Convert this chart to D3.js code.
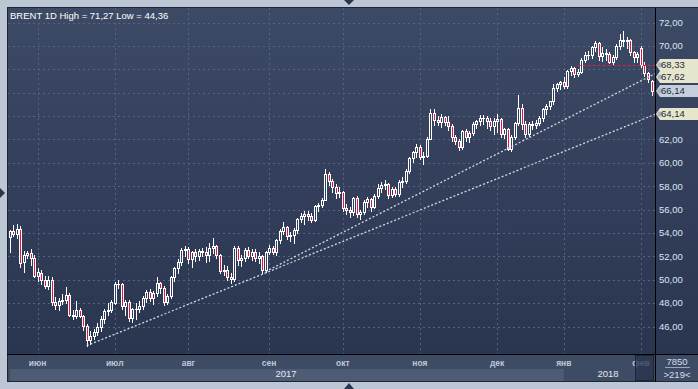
<!DOCTYPE html>
<html><head><meta charset="utf-8">
<script src="https://cdnjs.cloudflare.com/ajax/libs/d3/7.8.5/d3.min.js"></script>
<style>html,body{margin:0;padding:0;background:#bcc6d4;}svg{display:block;}</style>
</head><body>
<script>
// ---- data ----
const openP = [53.62,54.20,53.90,54.30,51.50,52.15,52.30,51.84,50.31,50.60,49.95,49.47,49.96,48.06,47.86,48.15,48.29,48.72,46.99,46.92,47.37,46.91,46.02,44.82,45.22,45.54,46.00,46.65,47.31,47.42,
48.00,49.67,49.61,47.79,48.11,46.71,47.48,47.52,47.74,48.42,48.91,48.42,48.84,49.70,49.30,48.06,48.60,50.20,50.97,51.49,52.52,
52.65,51.78,52.36,52.01,52.42,52.37,52.14,52.70,52.90,52.10,50.73,50.80,50.27,50.03,52.72,51.66,51.87,52.57,52.04,52.41,51.89,52.00,50.86,
52.38,52.75,52.34,53.38,54.20,54.49,53.78,53.84,54.27,55.16,55.47,55.62,55.48,55.14,56.29,56.43,56.86,59.02,58.44,57.90,57.41,
57.54,56.12,55.94,55.80,57.00,55.62,55.79,56.61,56.94,56.25,57.17,57.82,58.06,58.15,57.24,57.75,57.37,58.33,58.44,59.30,60.44,60.90,
61.37,60.49,60.62,62.07,64.27,63.69,63.49,63.93,63.52,63.16,62.21,61.87,61.36,62.72,62.22,62.57,63.32,63.55,63.86,63.84,63.61,63.11,
63.57,63.73,62.45,62.86,61.22,62.20,63.40,64.69,63.34,62.44,63.31,63.23,63.42,63.80,64.56,64.90,65.25,66.44,66.72,
66.87,66.57,67.84,68.07,67.62,67.78,68.82,69.20,69.26,69.87,70.26,69.15,69.37,69.31,68.61,69.03,69.96,70.53,70.42,70.52,69.46,69.02,
69.80,68.40,67.70,67.00];
const highP = [54.25,54.67,54.75,54.60,52.50,52.50,52.60,52.10,51.00,50.80,50.30,50.30,50.20,48.50,48.40,48.80,49.40,48.90,47.40,48.20,47.60,47.00,46.20,45.60,45.80,46.30,46.90,47.50,48.00,48.30,
49.80,50.00,49.70,48.30,48.30,47.60,48.00,48.20,48.60,49.10,49.20,49.00,50.20,49.80,49.50,48.80,50.30,51.10,51.80,52.70,52.90,
52.80,52.50,52.60,52.60,52.70,52.80,53.10,53.60,53.00,52.20,51.30,51.20,50.60,52.90,52.90,52.10,52.70,52.80,52.60,52.60,52.40,52.10,52.50,
53.00,52.90,53.50,54.30,54.90,54.60,54.10,54.40,55.30,55.70,55.90,55.90,55.70,56.40,56.60,57.00,59.50,59.20,58.60,58.20,57.90,
57.60,56.50,56.20,57.10,57.20,56.00,56.80,57.10,57.00,57.30,58.20,58.40,58.50,58.30,57.90,57.90,58.50,58.80,59.50,60.50,61.00,61.60,
61.50,60.90,62.20,64.60,64.60,64.00,64.20,64.00,64.00,63.30,62.40,62.00,62.80,62.90,62.70,63.50,63.70,64.10,64.10,64.00,63.80,63.80,
64.20,63.80,63.00,63.00,62.40,63.50,65.80,65.00,63.60,63.50,63.60,63.70,64.00,64.70,65.00,65.30,66.70,66.80,67.00,
67.30,67.90,68.30,68.20,68.00,69.00,69.50,69.60,70.00,70.40,70.30,69.90,69.70,69.50,69.20,70.20,71.00,71.27,70.80,70.60,69.60,69.50,
70.00,68.60,67.80,67.10];
const lowP = [52.40,53.70,53.60,51.10,50.70,51.90,51.30,50.20,49.90,49.60,49.30,49.20,47.80,47.50,47.40,47.90,48.00,46.90,46.60,46.70,46.80,45.70,44.36,44.50,44.90,45.30,45.60,46.30,47.00,47.20,
47.90,49.30,47.50,47.00,46.50,46.40,46.60,47.20,47.50,48.10,48.20,47.90,48.60,48.90,47.80,47.90,48.40,49.90,50.60,51.30,52.00,
51.40,51.10,51.60,51.70,52.00,51.50,51.60,52.30,51.90,50.60,50.40,50.00,49.70,49.90,51.30,51.20,51.60,51.90,51.70,51.60,51.40,50.60,50.70,
52.20,52.20,52.10,53.10,53.90,53.50,53.30,53.10,54.00,54.90,54.80,55.10,54.90,55.00,55.90,56.20,56.80,58.10,57.50,57.00,57.10,
55.90,55.60,55.40,55.50,55.40,55.20,55.60,56.20,55.90,56.10,57.00,57.50,57.80,57.00,57.10,57.20,57.20,57.90,58.30,59.10,60.10,60.50,
60.30,59.90,60.50,62.00,63.20,63.20,63.10,63.20,62.80,61.90,61.60,61.10,61.20,61.90,61.80,62.40,63.00,63.20,63.30,63.00,62.80,62.50,
62.60,62.20,62.10,61.10,61.00,62.00,63.20,62.90,62.20,62.30,62.90,63.00,63.20,63.60,64.20,64.60,65.00,66.10,66.30,
66.40,66.40,67.50,67.30,67.40,67.70,68.60,68.90,69.00,69.60,68.80,68.70,68.80,68.50,68.40,68.90,69.70,70.00,69.80,69.20,68.60,68.60,
68.20,67.40,66.90,65.80];
const closeP = [54.15,53.90,54.30,51.46,52.15,52.30,51.84,50.31,50.63,49.95,49.47,49.96,48.06,47.86,48.15,48.29,48.72,46.99,46.92,47.37,46.91,46.02,44.82,45.22,45.54,46.00,46.65,47.31,47.42,48.10,
49.67,49.61,47.79,48.11,46.71,47.48,47.52,47.74,48.42,48.91,48.42,48.84,49.70,49.30,48.06,48.60,50.20,50.97,51.49,52.52,52.65,
51.78,52.36,52.01,52.42,52.37,52.14,52.70,52.90,52.10,50.73,50.80,50.27,50.03,52.72,51.66,51.87,52.57,52.04,52.41,51.89,52.00,50.86,52.38,
52.75,52.34,53.38,54.20,54.49,53.78,53.84,54.27,55.16,55.47,55.62,55.48,55.14,56.29,56.43,56.86,59.02,58.44,57.90,57.41,57.54,
56.12,55.94,55.80,57.00,55.62,55.79,56.61,56.94,56.25,57.17,57.82,58.06,58.15,57.24,57.75,57.37,58.33,58.44,59.30,60.44,60.90,61.37,
60.49,60.62,62.07,64.27,63.69,63.49,63.93,63.52,63.16,62.21,61.87,61.36,62.72,62.22,62.57,63.32,63.55,63.86,63.84,63.61,63.11,63.57,
63.73,62.45,62.86,61.22,62.20,63.40,64.69,63.34,62.44,63.31,63.23,63.42,63.80,64.56,64.90,65.25,66.44,66.72,66.87,
66.57,67.84,68.07,67.62,67.78,68.82,69.20,69.26,69.87,70.26,69.15,69.37,69.31,68.61,69.03,69.96,70.53,70.42,70.52,69.46,69.02,69.30,
68.40,67.70,67.20,66.14];
const monthLabels = ['июн','июл','авг','сен','окт','ноя','дек','янв','фев'];
const monthStartIndex = [8,30,51,74,95,117,139,158,180];
const yearLabels = ['2017','2018'];
const yTickValues = [46,48,50,52,54,56,58,60,62,64,66,68,70,72];
const titleText = 'BRENT 1D High = 71,27 Low = 44,36';
// trend lines: start candle index, start price, price at right edge
const trendStartIndex = [22, 73];
const trendStartPrice = [44.36, 50.70];
const trendEndPrice = [64.14, 67.62];
// horizontal level
const levelPrice = 68.33;
const levelStartIndex = 162;
const lastPrice = 66.14;
const footerTop = '7850';
const footerBottom = '>219<';

// ---- layout ----
const W = 698, H = 389;
const PL = 8, PR = 655, PT = 8, PB = 354;
const fmt = v => v.toFixed(2).replace('.', ',');
const FONT = '"Liberation Sans", Arial, sans-serif';

const svg = d3.select('body').append('svg').attr('width', W).attr('height', H);
const defs = svg.append('defs');
const grad = defs.append('linearGradient').attr('id','bg').attr('x1',0).attr('y1',0).attr('x2',0).attr('y2',1);
grad.append('stop').attr('offset','0%').attr('stop-color','#3d4a65');
grad.append('stop').attr('offset','100%').attr('stop-color','#2a3550');
defs.append('clipPath').attr('id','plotclip').append('rect').attr('x',PL).attr('y',PT).attr('width',PR-PL).attr('height',PB-PT);

// outer frame
svg.append('rect').attr('width',W).attr('height',H).attr('fill','#bcc6d4');
svg.append('rect').attr('x',7).attr('y',7).attr('width',W-7).attr('height',382-7).attr('fill','#1e2638');
svg.append('rect').attr('x',PL).attr('y',PT).attr('width',W-PL).attr('height',PB-PT).attr('fill','url(#bg)');

// arrows on frame
svg.append('path').attr('d','M344,0 L354,0 L349,5 Z').attr('fill','#2a3650');
svg.append('path').attr('d','M344,389 L354,389 L349,383 Z').attr('fill','#2a3650');
svg.append('path').attr('d','M0,188 L0,198 L5,193 Z').attr('fill','#2a3650');

const x = d3.scaleLinear().domain([0, closeP.length-1]).range([9.5, 651.5]);
const y = d3.scaleLinear().domain([46, 72]).range([326.5, 22.5]);

const plot = svg.append('g').attr('clip-path','url(#plotclip)');

// grid
plot.selectAll('line.hg').data(yTickValues).join('line')
  .attr('x1',PL).attr('x2',PR)
  .attr('y1',d=>Math.round(y(d))+0.5).attr('y2',d=>Math.round(y(d))+0.5)
  .attr('stroke','#56637e').attr('stroke-dasharray','2,3');
plot.selectAll('line.vg').data(monthStartIndex).join('line')
  .attr('x1',d=>Math.round(x(d))+0.5).attr('x2',d=>Math.round(x(d))+0.5)
  .attr('y1',PT).attr('y2',PB)
  .attr('stroke','#56637e').attr('stroke-dasharray','2,3');

// title
svg.append('text').attr('x',10).attr('y',19).text(titleText)
  .attr('font-family',FONT).attr('font-size','9.5px').attr('fill','#ffffff');

// candles
const candles = plot.append('g').attr('shape-rendering','crispEdges');
closeP.forEach((c,i)=>{
  const o = openP[i], h = highP[i], l = lowP[i];
  const cx = Math.round(x(i));
  const yh = Math.round(y(h)), yl = Math.round(y(l));
  candles.append('rect').attr('x',cx).attr('y',yh).attr('width',1).attr('height',Math.max(1,yl-yh+1)).attr('fill','#ffffff');
  const top = Math.round(y(Math.max(o,c))), bot = Math.round(y(Math.min(o,c)));
  const bh = Math.max(1, bot-top+1);
  candles.append('rect').attr('x',cx-1).attr('y',top).attr('width',3).attr('height',bh).attr('fill','#ffffff');
  if (bh >= 3) {
    candles.append('rect').attr('x',cx).attr('y',top+1).attr('width',1).attr('height',bh-2)
      .attr('fill', c < o ? '#ec1240' : '#33405b');
  }
});

// trend lines
trendStartIndex.forEach((si,k)=>{
  plot.append('line')
    .attr('x1',x(si)).attr('y1',y(trendStartPrice[k]))
    .attr('x2',PR).attr('y2',y(trendEndPrice[k]))
    .attr('stroke','#d4d8e0').attr('stroke-width',1.3).attr('stroke-dasharray','2,2');
});
// level line
plot.append('line').attr('x1',x(levelStartIndex)).attr('x2',PR)
  .attr('y1',Math.round(y(levelPrice))+0.5).attr('y2',Math.round(y(levelPrice))+0.5)
  .attr('stroke','#e0203c').attr('stroke-width',1.2).attr('stroke-dasharray','3,2');

// right axis separator
svg.append('line').attr('x1',PR+0.5).attr('x2',PR+0.5).attr('y1',PT).attr('y2',382).attr('stroke','#000');

// price tags (stacked so they don't collide)
const tags = [
  {p: levelPrice, fill:'#e6e6cc'},
  {p: trendEndPrice[1], fill:'#e6e6cc'},
  {p: lastPrice, fill:'#c6cedb'},
  {p: trendEndPrice[0], fill:'#e6e6cc'}
];
let prevBottom = -Infinity;
tags.forEach(t=>{
  let cy = Math.round(y(t.p));
  if (cy - 6 < prevBottom) cy = prevBottom + 6;
  t.cy = cy;
  prevBottom = cy + 6;
});

// y labels (those hidden under a price tag are skipped)
const visibleTicks = yTickValues.filter(v => tags.every(t => Math.abs(y(v) - t.cy) > 8));
svg.selectAll('text.yl').data(visibleTicks).join('text')
  .attr('x',659).attr('y',d=>y(d)).attr('dy','0.35em').text(d=>fmt(d))
  .attr('font-family',FONT).attr('font-size','9.5px').attr('fill','#dbe5f1');

tags.slice().reverse().forEach(t=>{
  const cy = t.cy;
  const g = svg.append('g');
  g.append('path').attr('d',`M${PR+1},${cy} L${PR+5},${cy-6} L${W},${cy-6} L${W},${cy+6} L${PR+5},${cy+6} Z`)
    .attr('fill',t.fill);
  g.append('circle').attr('cx',PR+5).attr('cy',cy).attr('r',2.5).attr('fill','#a9b0b8');
  g.append('text').attr('x',661).attr('y',cy).attr('dy','0.36em').text(fmt(t.p))
    .attr('font-family',FONT).attr('font-size','9.5px').attr('fill','#1e2a40');
});

// bottom axis area
svg.append('line').attr('x1',7).attr('x2',W).attr('y1',PB+0.5).attr('y2',PB+0.5).attr('stroke','#000');
svg.append('rect').attr('x',PL).attr('y',PB+1).attr('width',PR-PL).attr('height',381-PB-1).attr('fill','#3e4b64');
const janX = x(monthStartIndex[7]);
svg.append('rect').attr('x',10).attr('y',369).attr('width',janX-10).attr('height',12).attr('fill','#4d5b75');
svg.selectAll('text.ml').data(monthLabels).join('text')
  .attr('x',(d,i)=>x(monthStartIndex[i])).attr('y',363).attr('dy','0.35em').attr('text-anchor','middle')
  .text(d=>d).attr('font-family',FONT).attr('font-size','8.5px').attr('font-weight','bold').attr('fill','#bcc8d8');
const yearX = [286, 608];
svg.selectAll('text.yr').data(yearLabels).join('text')
  .attr('x',(d,i)=>yearX[i]).attr('y',374).attr('dy','0.35em').attr('text-anchor','middle')
  .text(d=>d).attr('font-family',FONT).attr('font-size','9.5px').attr('fill','#e2e9f2');
// scroll thumb
svg.append('rect').attr('x',635.5).attr('y',PB+1.5).attr('width',18).attr('height',25).attr('fill','#27334b').attr('fill-opacity',0.75)
  .attr('stroke','#1c2538');
// right bottom box
svg.append('rect').attr('x',PR+1).attr('y',PB+1).attr('width',W-PR-1).attr('height',381-PB-1).attr('fill','#3e4b64');
svg.append('text').attr('x',677).attr('y',361.5).attr('dy','0.35em').attr('text-anchor','middle').text(footerTop)
  .attr('font-family',FONT).attr('font-size','9.5px').attr('fill','#d3deeb');
svg.append('line').attr('x1',665).attr('x2',690).attr('y1',367.5).attr('y2',367.5).attr('stroke','#9aa7ba');
svg.append('text').attr('x',677).attr('y',374.5).attr('dy','0.35em').attr('text-anchor','middle').text(footerBottom)
  .attr('font-family',FONT).attr('font-size','9.5px').attr('fill','#d3deeb');
</script>
</body></html>
